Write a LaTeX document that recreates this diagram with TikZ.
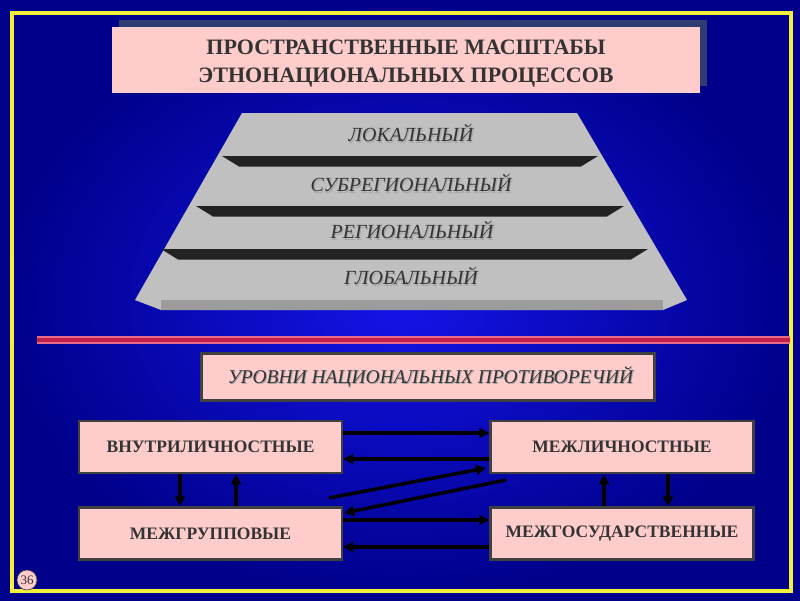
\documentclass[tikz,border=0pt]{standalone}
\usepackage{fontspec}
\setmainfont{Liberation Serif}
\usetikzlibrary{arrows.meta,positioning,shadows}
\definecolor{bgdeep}{HTML}{00008A}
\definecolor{bglight}{HTML}{1414EA}
\definecolor{frameyel}{HTML}{F5F03C}
\definecolor{boxpink}{HTML}{FFCCCC}
\definecolor{boxedge}{HTML}{404040}
\definecolor{titleshade}{HTML}{2E3C72}
\definecolor{slabtop}{HTML}{C0C0C0}
\definecolor{slabfront}{HTML}{9C9C9C}
\definecolor{ledge}{HTML}{222222}
\definecolor{inkgrey}{HTML}{333333}
\definecolor{redline}{HTML}{C02048}
\definecolor{redlight}{HTML}{E86A8A}
\tikzset{
  box/.style={fill=boxpink, draw=boxedge, line width=2.5pt, minimum width=263pt,
              minimum height=52pt, inner sep=2pt, text=inkgrey,
              font=\fontsize{17.5}{19}\selectfont\bfseries},
  lvl/.style={font=\fontsize{20}{22}\selectfont\itshape, text=inkgrey},
  lvlsh/.style={lvl, text=gray!70},
  arr/.style={-{Triangle[length=10pt,width=10pt]}, line width=3.5pt, draw=black},
}

\begin{document}
\begin{tikzpicture}[x=1pt, y=-1pt]
  % background and frame
  \useasboundingbox (0,0) rectangle (800,600);
  \shade[inner color=bglight, outer color=bgdeep] (0,0) rectangle (800,600);
  \draw[frameyel, line width=3.2pt] (12,13) rectangle (791,591);

  % title
  \node[fill=boxpink, minimum width=588pt, minimum height=66pt,
        drop shadow={shadow xshift=7pt, shadow yshift=7pt, fill=titleshade, opacity=1}]
        (title) at (406,60) {};
  \node[align=center, text=inkgrey, font=\fontsize{22}{28}\selectfont\bfseries]
        (titletxt) at (406,64) {ПРОСТРАНСТВЕННЫЕ МАСШТАБЫ\\ЭТНОНАЦИОНАЛЬНЫХ ПРОЦЕССОВ};

  % pyramid
  \fill[slabtop] (242,113) -- (577,113) -- (687,300) -- (663,310) -- (161,310) -- (135,300) -- cycle;
  \fill[slabfront] (161,300) -- (663,300) -- (663,310) -- (161,310) -- cycle;
  \foreach \yt/\lt/\rt in {156/222/598, 206/196/624, 249/161/648}
    \fill[ledge] (\lt,\yt) -- (\rt,\yt) -- (\rt-17,\yt+10.5) -- (\lt+17,\yt+10.5) -- cycle;

  \node[lvlsh] (loksh) at (412,134.5) {ЛОКАЛЬНЫЙ};
  \node[lvl]   (lok)   at (411,133)   {ЛОКАЛЬНЫЙ};
  \node[lvlsh] (subsh) at (412,184.5) {СУБРЕГИОНАЛЬНЫЙ};
  \node[lvl]   (sub)   at (411,183)   {СУБРЕГИОНАЛЬНЫЙ};
  \node[lvlsh] (regsh) at (413,231.5) {РЕГИОНАЛЬНЫЙ};
  \node[lvl]   (reg)   at (412,230)   {РЕГИОНАЛЬНЫЙ};
  \node[lvlsh] (glosh) at (412,277.5) {ГЛОБАЛЬНЫЙ};
  \node[lvl]   (glo)   at (411,276)   {ГЛОБАЛЬНЫЙ};

  % divider
  \draw[redlight, line width=1.6pt] (37,336.8) -- (790,336.8);
  \draw[redlight, line width=1.6pt] (37,343.2) -- (790,343.2);
  \draw[redline, line width=4pt] (37,340) -- (790,340);

  % levels of contradictions
  \node[fill=boxpink, draw=boxedge, line width=3pt, minimum width=453pt, minimum height=47pt]
        (lev) at (427.5,376.5) {};
  \node[lvlsh, font=\fontsize{19.5}{21}\selectfont\itshape] (levsh) at (431.5,378) {УРОВНИ НАЦИОНАЛЬНЫХ ПРОТИВОРЕЧИЙ};
  \node[lvl, font=\fontsize{19.5}{21}\selectfont\itshape]   (levt)  at (430.5,376.5) {УРОВНИ НАЦИОНАЛЬНЫХ ПРОТИВОРЕЧИЙ};

  \node[box]                         (vnut)  at (210.5,447) {ВНУТРИЛИЧНОСТНЫЕ};
  \node[box, right=146pt of vnut]    (mezhl)  {МЕЖЛИЧНОСТНЫЕ};
  \node[box, below=32pt of vnut]     (mgrup)  {МЕЖГРУППОВЫЕ};
  \node[box, right=146pt of mgrup]   (mgos)   {МЕЖГОСУДАРСТВЕННЫЕ};

  \draw[arr] ([yshift=14pt]vnut.east)  -- ([yshift=14pt]mezhl.west);
  \draw[arr] ([yshift=-12pt]mezhl.west) -- ([yshift=-12pt]vnut.east);
  \draw[arr] ([yshift=13.5pt]mgrup.east) -- ([yshift=13.5pt]mgos.west);
  \draw[arr] ([yshift=-13.5pt]mgos.west) -- ([yshift=-13.5pt]mgrup.east);
  \draw[arr] ([xshift=-30.5pt]vnut.south) -- ([xshift=-30.5pt]mgrup.north);
  \draw[arr] ([xshift=25.5pt]mgrup.north) -- ([xshift=25.5pt]vnut.south);
  \draw[arr] ([xshift=-18pt]mgos.north) -- ([xshift=-18pt]mezhl.south);
  \draw[arr] ([xshift=46pt]mezhl.south) -- ([xshift=46pt]mgos.north);

  \coordinate (cr1a) at (329,498);
  \coordinate (cr1b) at (486,468);
  \coordinate (cr2a) at (506,480);
  \coordinate (cr2b) at (344,513);
  \draw[arr] (cr1a) -- (cr1b);
  \draw[arr] (cr2a) -- (cr2b);

  % page number
  \node[circle, fill=boxpink, draw=boxedge, line width=0.6pt, minimum size=20pt, inner sep=0pt,
        font=\fontsize{13}{14}\selectfont, text=inkgrey] (pnum) at (27,580) {36};
\end{tikzpicture}
\end{document}
